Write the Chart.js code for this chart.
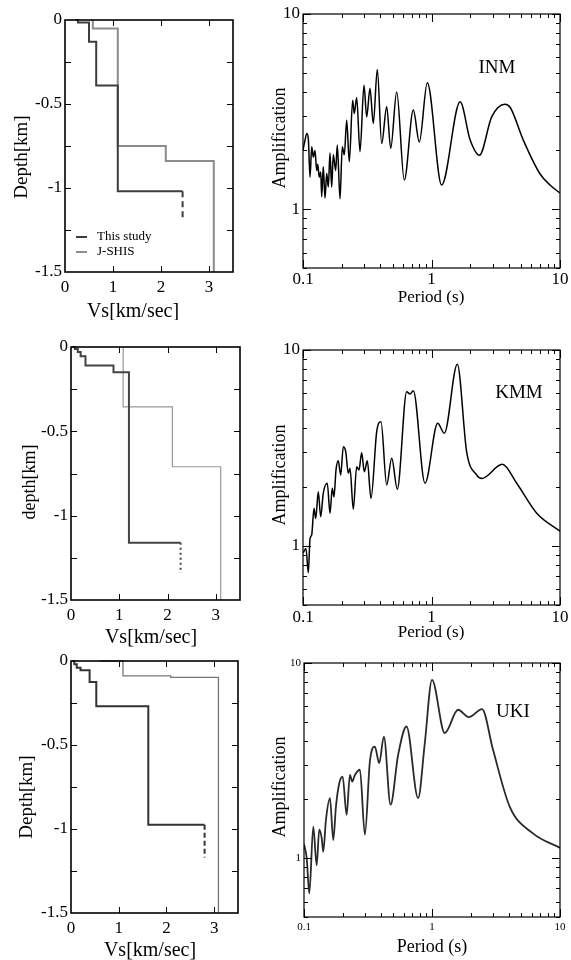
<!DOCTYPE html>
<html>
<head>
<meta charset="utf-8">
<script src="https://cdn.jsdelivr.net/npm/chart.js@4.4.1/dist/chart.umd.min.js"></script>
<style>
html, body { margin: 0; padding: 0; background: #fff; }
#fig { position: relative; width: 571px; height: 960px; }
.panel { position: absolute; }
</style>
</head>
<body>
<div id="fig">
  <div class="panel" style="left:0;top:0;width:250px;height:320px"><canvas id="c1"></canvas></div>
  <div class="panel" style="left:250px;top:0;width:321px;height:320px"><canvas id="c2"></canvas></div>
  <div class="panel" style="left:0;top:640px;width:250px;height:320px"><canvas id="c5"></canvas></div>
  <div class="panel" style="left:0;top:320px;width:250px;height:332px"><canvas id="c3"></canvas></div>
  <div class="panel" style="left:250px;top:320px;width:321px;height:320px"><canvas id="c4"></canvas></div>
  <div class="panel" style="left:250px;top:640px;width:321px;height:320px"><canvas id="c6"></canvas></div>
</div>
<script>
// --- amplification spectra (period in s, amplification) ---
const inmPeriod = [0.100, 0.1037, 0.1069, 0.110, 0.1134, 0.1169, 0.1203, 0.124, 0.1278, 0.1301,
    0.1339, 0.1374, 0.1398, 0.1438, 0.1483, 0.1529, 0.1574, 0.1622, 0.1672, 0.1721,
    0.1796, 0.1849, 0.1941, 0.2021, 0.2096, 0.2188, 0.2292, 0.2435, 0.2506, 0.2617,
    0.2777, 0.2983, 0.3131, 0.3321, 0.3524, 0.3786, 0.4097, 0.4479, 0.4814, 0.536,
    0.6143, 0.7219, 0.8038, 0.9275, 1.20, 1.67, 2.0, 2.36, 2.94, 3.73, 4.1, 5.18, 6.98, 8.36, 10];
const inmAmp = [2.01, 2.26, 2.44, 2.3, 1.46, 2.09, 1.85, 2.0, 1.58, 1.7,
    1.46, 1.55, 1.16, 1.65, 1.14, 1.53, 1.30, 1.94, 1.30, 1.9,
    1.58, 2.13, 1.13, 2.09, 1.9, 2.86, 1.75, 3.62, 3.09, 3.74,
    1.97, 4.32, 2.97, 4.16, 2.75, 5.2, 2.17, 3.35, 2.05, 3.99,
    1.41, 3.22, 2.21, 4.44, 1.33, 3.55, 2.26, 1.89, 2.97, 3.45, 3.32, 2.26, 1.52, 1.33, 1.21];

const kmmPeriod = [0.100, 0.1055, 0.110, 0.1134, 0.1169, 0.1218, 0.1256, 0.1315, 0.1373, 0.1438,
    0.1545, 0.1622, 0.169, 0.1743, 0.1806, 0.1882, 0.1965, 0.2059, 0.215, 0.2252,
    0.2321, 0.2462, 0.2617, 0.2727, 0.2862, 0.2999, 0.3165, 0.3382, 0.3746, 0.4046,
    0.4479, 0.4902, 0.5418, 0.6412, 0.6805, 0.7219, 0.89, 1.117, 1.258, 1.588,
    1.88, 2.25, 2.459, 3.556, 4.603, 6.59, 10];
const kmmAmp = [0.92, 0.97, 0.73, 1.09, 1.14, 1.56, 1.38, 1.89, 1.41, 1.86,
    2.09, 1.47, 1.97, 1.78, 2.44, 2.72, 2.30, 3.21, 3.03, 2.35,
    2.49, 1.54, 2.54, 2.44, 2.99, 2.39, 2.72, 1.75, 3.83, 4.31,
    2.05, 2.80, 1.95, 6.12, 5.97, 6.2, 2.09, 4.23, 3.76, 8.45,
    3.0, 2.3, 2.21, 2.61, 2.09, 1.47, 1.19];

const ukiPeriod = [0.1, 0.105, 0.110, 0.1182, 0.1256, 0.1316, 0.1374, 0.1414, 0.1484, 0.1595,
    0.1693, 0.1777, 0.1886, 0.2003, 0.2153, 0.2284, 0.238, 0.2499, 0.2734, 0.299,
    0.3271, 0.3579, 0.3867, 0.4207, 0.4745, 0.5439, 0.6325, 0.779, 0.8786, 1.0,
    1.258, 1.598, 1.936, 2.459, 2.997, 4.045, 6.146, 10];
const ukiAmp = [1.18, 1.0, 0.66, 1.45, 0.92, 1.40, 1.27, 1.08, 1.57, 2.03,
    1.24, 1.84, 2.42, 2.62, 1.67, 2.67, 2.47, 2.67, 2.84, 1.32,
    3.13, 3.73, 3.07, 4.2, 1.88, 3.39, 4.73, 2.03, 3.89, 8.2,
    4.38, 5.76, 5.28, 5.81, 3.59, 1.84, 1.34, 1.13];

// --- Vs profiles (Vs in km/s, depth in km) ---
const inmStudyVs = [0.22, 0.27, 0.27, 0.5, 0.5, 0.65, 0.65, 1.1, 1.1, 2.45];
const inmStudyDepth = [0, 0, -0.015, -0.015, -0.13, -0.13, -0.39, -0.39, -1.02, -1.02];
const inmTailVs = [2.45, 2.45];
const inmTailDepth = [-1.02, -1.18];
const inmJshisVs = [0.58, 0.58, 1.1, 1.1, 2.1, 2.1, 3.1, 3.1];
const inmJshisDepth = [0, -0.05, -0.05, -0.75, -0.75, -0.84, -0.84, -1.5];

const kmmStudyVs = [0.03, 0.08, 0.08, 0.14, 0.14, 0.2, 0.2, 0.3, 0.3, 0.88, 0.88, 1.2, 1.2, 2.27];
const kmmStudyDepth = [0, 0, -0.012, -0.012, -0.03, -0.03, -0.055, -0.055, -0.11, -0.11, -0.15, -0.15, -1.16, -1.16];
const kmmTailVs = [2.27, 2.27];
const kmmTailDepth = [-1.16, -1.34];
const kmmJshisVs = [1.08, 1.08, 2.1, 2.1, 3.1, 3.1];
const kmmJshisDepth = [0, -0.355, -0.355, -0.71, -0.71, -1.5];

const ukiStudyVs = [0.03, 0.07, 0.07, 0.12, 0.12, 0.2, 0.2, 0.39, 0.39, 0.53, 0.53, 1.62, 1.62, 2.8];
const ukiStudyDepth = [0, 0, -0.02, -0.02, -0.04, -0.04, -0.055, -0.055, -0.125, -0.125, -0.27, -0.27, -0.975, -0.975];
const ukiTailVs = [2.8, 2.8];
const ukiTailDepth = [-0.975, -1.17];
const ukiJshisVs = [0.6, 1.09, 1.09, 2.09, 2.09, 3.09, 3.09];
const ukiJshisDepth = [0, 0, -0.088, -0.088, -0.098, -0.098, -1.5];

// --- ticks ---
const periodTicks = [0.1, 0.2, 0.3, 0.4, 0.5, 0.6, 0.7, 0.8, 0.9, 1, 2, 3, 4, 5, 6, 7, 8, 9, 10];
const periodLabels = [0.1, 1, 10];
const ampTicks = [0.5, 0.6, 0.7, 0.8, 0.9, 1, 2, 3, 4, 5, 6, 7, 8, 9, 10];
const ampLabels = [1, 10];
const vsTicks = [0, 1, 2, 3];
const vsMarks = [1, 2, 3];
const depthTicks = [0, -0.5, -1, -1.5];
const depthMarks = [-0.25, -0.5, -0.75, -1, -1.25];

const SERIF = "'Liberation Serif', 'Times New Roman', serif";

function toPoints(xs, ys) {
    return xs.map((x, i) => ({ x: x, y: ys[i] }));
}

function fixScale(size) {
    return scale => {
        if (scale.isHorizontal()) {
            scale.height = size;
        } else {
            scale.width = size;
        }
        scale.paddingLeft = scale.paddingRight = scale.paddingTop = scale.paddingBottom = 0;
    };
}

// frame, inward ticks on all four sides, titles and notes
function decor(cfg) {
    return {
        id: 'decor',
        afterDraw(chart) {
            const { ctx, chartArea: a } = chart;
            const sx = chart.scales.x, sy = chart.scales.y;
            ctx.save();
            ctx.strokeStyle = '#000';
            ctx.lineWidth = 1;
            ctx.beginPath();
            cfg.xMarks.forEach(v => {
                const p = Math.round(sx.getPixelForValue(v)) + 0.5;
                const len = cfg.xMajor.includes(v) ? cfg.major : cfg.minor;
                ctx.moveTo(p, a.bottom); ctx.lineTo(p, a.bottom - len);
                ctx.moveTo(p, a.top); ctx.lineTo(p, a.top + len);
            });
            cfg.yMarks.forEach(v => {
                const p = Math.round(sy.getPixelForValue(v)) + 0.5;
                const len = cfg.yMajor.includes(v) ? cfg.major : cfg.minor;
                ctx.moveTo(a.left, p); ctx.lineTo(a.left + len, p);
                ctx.moveTo(a.right, p); ctx.lineTo(a.right - len, p);
            });
            ctx.stroke();
            ctx.lineWidth = cfg.frame;
            ctx.strokeRect(a.left, a.top, a.right - a.left, a.bottom - a.top);

            ctx.fillStyle = '#000';
            ctx.textBaseline = 'middle';
            cfg.texts.forEach(t => {
                ctx.save();
                ctx.font = t.size + 'px ' + SERIF;
                ctx.translate(t.x - cfg.ox, t.y - cfg.oy);
                if (t.rot) ctx.rotate(-Math.PI / 2);
                ctx.textAlign = t.align || 'center';
                ctx.fillText(t.text, 0, 0);
                ctx.restore();
            });
            (cfg.legend || []).forEach(l => {
                ctx.strokeStyle = l.color;
                ctx.lineWidth = 2;
                ctx.beginPath();
                ctx.moveTo(l.x - cfg.ox, l.y - cfg.oy);
                ctx.lineTo(l.x + 11 - cfg.ox, l.y - cfg.oy);
                ctx.stroke();
                ctx.font = '13px ' + SERIF;
                ctx.textAlign = 'left';
                ctx.fillText(l.text, l.x + 21 - cfg.ox, l.y - cfg.oy);
            });
            ctx.restore();
        }
    };
}

function ampChart(id, period, amp, box, texts, tickSize) {
    const cfg = {
        ox: box.ox, oy: box.oy, frame: 1.2, major: 8, minor: 4,
        xMarks: periodTicks, xMajor: periodLabels, yMarks: ampTicks, yMajor: ampLabels, texts: texts
    };
    return new Chart(document.getElementById(id), {
        type: 'scatter',
        data: {
            datasets: [{
                data: toPoints(period, amp),
                showLine: true,
                borderColor: box.color || '#000',
                borderWidth: box.width || 1.5,
                pointRadius: 0,
                cubicInterpolationMode: 'monotone'
            }]
        },
        options: {
            responsive: true,
            maintainAspectRatio: false,
            animation: false,
            layout: { padding: { left: 0, top: box.top, right: box.right, bottom: 0 } },
            plugins: { legend: { display: false }, tooltip: { enabled: false } },
            scales: {
                x: {
                    type: 'logarithmic', min: 0.1, max: 10,
                    afterBuildTicks: s => { s.ticks = periodTicks.map(v => ({ value: v })); },
                    afterFit: fixScale(box.xh),
                    grid: { display: false, drawTicks: false }, border: { display: false },
                    ticks: {
                        autoSkip: false, maxRotation: 0, padding: box.xpad, color: '#000',
                        font: { family: SERIF, size: tickSize },
                        callback: v => periodLabels.includes(v) ? String(v) : ''
                    }
                },
                y: {
                    type: 'logarithmic', min: 0.5, max: 10,
                    afterBuildTicks: s => { s.ticks = ampTicks.map(v => ({ value: v })); },
                    afterFit: fixScale(box.yw),
                    grid: { display: false, drawTicks: false }, border: { display: false },
                    ticks: {
                        autoSkip: false, padding: 3, color: '#000',
                        font: { family: SERIF, size: tickSize },
                        callback: v => ampLabels.includes(v) ? String(v) : ''
                    }
                }
            }
        },
        plugins: [decor(cfg)]
    });
}

function profileChart(id, study, tail, jshis, box, texts, legend) {
    const cfg = {
        ox: box.ox, oy: box.oy, frame: 1.6, major: 6, minor: 6,
        xMarks: vsMarks, xMajor: vsMarks, yMarks: depthMarks, yMajor: depthMarks,
        texts: texts, legend: legend
    };
    const line = (pts, color, width, dash) => ({
        data: pts, showLine: true, borderColor: color, borderWidth: width,
        borderDash: dash || [], pointRadius: 0, tension: 0, clip: false
    });
    return new Chart(document.getElementById(id), {
        type: 'scatter',
        data: {
            datasets: [
                line(study, box.studyColor, 2),
                line(tail, box.studyColor, 2, box.tailDash),
                line(jshis, box.jshisColor, box.jshisWidth)
            ]
        },
        options: {
            responsive: true,
            maintainAspectRatio: false,
            animation: false,
            layout: { padding: { left: 0, top: box.top, right: box.right, bottom: 0 } },
            plugins: { legend: { display: false }, tooltip: { enabled: false } },
            scales: {
                x: {
                    type: 'linear', min: 0, max: 3.5,
                    afterBuildTicks: s => { s.ticks = vsTicks.map(v => ({ value: v })); },
                    afterFit: fixScale(box.xh),
                    grid: { display: false, drawTicks: false }, border: { display: false },
                    ticks: {
                        autoSkip: false, maxRotation: 0, padding: 5, color: '#000',
                        font: { family: SERIF, size: 17 }, callback: v => String(v)
                    }
                },
                y: {
                    type: 'linear', min: -1.5, max: 0,
                    afterBuildTicks: s => { s.ticks = depthTicks.map(v => ({ value: v })); },
                    afterFit: fixScale(box.yw),
                    grid: { display: false, drawTicks: false }, border: { display: false },
                    ticks: {
                        autoSkip: false, padding: 3, color: '#000',
                        font: { family: SERIF, size: 17 }, callback: v => String(v)
                    }
                }
            }
        },
        plugins: [decor(cfg)]
    });
}

// INM
profileChart('c1',
    toPoints(inmStudyVs, inmStudyDepth), toPoints(inmTailVs, inmTailDepth), toPoints(inmJshisVs, inmJshisDepth),
    { ox: 0, oy: 0, top: 20, right: 17, yw: 65, xh: 48, studyColor: '#3c3c3c', jshisColor: '#8c8c8c', jshisWidth: 2, tailDash: [6, 4] },
    [
        { text: 'Depth[km]', x: 22, y: 157, size: 19, rot: true },
        { text: 'Vs[km/sec]', x: 133, y: 312, size: 20 }
    ],
    [
        { text: 'This study', x: 76, y: 237, color: '#3c3c3c' },
        { text: 'J-SHIS', x: 76, y: 252, color: '#8c8c8c' }
    ]);

ampChart('c2', inmPeriod, inmAmp,
    { ox: 250, oy: 0, top: 14, right: 11, yw: 53, xh: 52, xpad: 1 },
    [
        { text: 'Amplification', x: 280, y: 138, size: 18, rot: true },
        { text: 'Period (s)', x: 431, y: 298, size: 17 },
        { text: 'INM', x: 497, y: 68, size: 19 }
    ], 17);

// KMM
profileChart('c3',
    toPoints(kmmStudyVs, kmmStudyDepth), toPoints(kmmTailVs, kmmTailDepth), toPoints(kmmJshisVs, kmmJshisDepth),
    { ox: 0, oy: 320, top: 27, right: 10, yw: 71, xh: 52, studyColor: '#444', jshisColor: '#999', jshisWidth: 1.2, tailDash: [2, 3] },
    [
        { text: 'depth[km]', x: 30, y: 482, size: 18, rot: true },
        { text: 'Vs[km/sec]', x: 151, y: 638, size: 20 }
    ]);

ampChart('c4', kmmPeriod, kmmAmp,
    { ox: 250, oy: 320, top: 30, right: 11, yw: 53, xh: 35, xpad: 2 },
    [
        { text: 'Amplification', x: 280, y: 475, size: 18, rot: true },
        { text: 'Period (s)', x: 431, y: 633, size: 17 },
        { text: 'KMM', x: 519, y: 393, size: 19 }
    ], 17);

// UKI
profileChart('c5',
    toPoints(ukiStudyVs, ukiStudyDepth), toPoints(ukiTailVs, ukiTailDepth), toPoints(ukiJshisVs, ukiJshisDepth),
    { ox: 0, oy: 640, top: 21, right: 12, yw: 71, xh: 47, studyColor: '#333', jshisColor: '#777', jshisWidth: 1.3, tailDash: [5, 3] },
    [
        { text: 'Depth[km]', x: 27, y: 797, size: 19, rot: true },
        { text: 'Vs[km/sec]', x: 150, y: 951, size: 20 }
    ]);

ampChart('c6', ukiPeriod, ukiAmp,
    { ox: 250, oy: 640, top: 23, right: 11, yw: 54, xh: 43, xpad: 4, color: '#2a2a2a', width: 1.8 },
    [
        { text: 'Amplification', x: 280, y: 787, size: 18, rot: true },
        { text: 'Period (s)', x: 432, y: 947, size: 18 },
        { text: 'UKI', x: 513, y: 712, size: 19 }
    ], 11);
</script>
</body>
</html>
